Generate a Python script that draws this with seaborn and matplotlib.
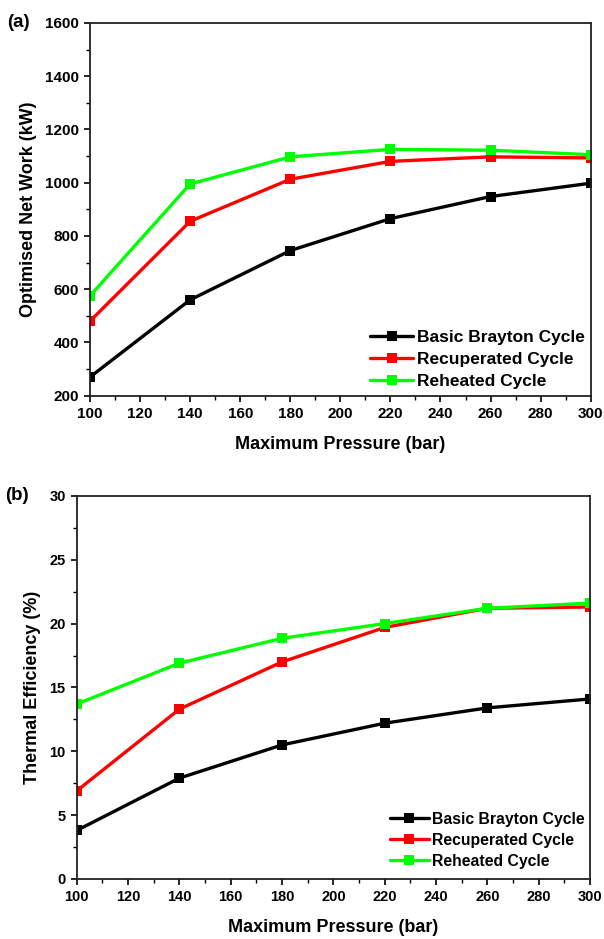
import matplotlib
matplotlib.use("Agg")
import matplotlib.pyplot as plt
import pandas as pd
import seaborn as sns
from matplotlib.ticker import MultipleLocator, AutoMinorLocator

pressure = [100, 140, 180, 220, 260, 300]
series_names = ["Basic Brayton Cycle", "Recuperated Cycle", "Reheated Cycle"]
series_colors = ["#000000", "#ff0000", "#00ff00"]

net_work_basic = [270, 560, 745, 865, 948, 998]
net_work_recup = [480, 855, 1013, 1080, 1097, 1093]
net_work_reheat = [575, 995, 1097, 1125, 1122, 1105]

eff_basic = [3.8, 7.9, 10.5, 12.2, 13.4, 14.1]
eff_recup = [6.9, 13.3, 17.0, 19.7, 21.2, 21.3]
eff_reheat = [13.7, 16.9, 18.85, 20.0, 21.2, 21.6]


def long_frame(values_list):
    rows = []
    for name, vals in zip(series_names, values_list):
        for p, v in zip(pressure, vals):
            rows.append({"pressure": p, "value": v, "cycle": name})
    return pd.DataFrame(rows)


def draw_panel(ax, df, ylabel, ylim, ymajor, tag, tag_x, tick_size, leg_size,
               leg_spacing, leg_anchor):
    for name, color in zip(series_names, series_colors):
        sub = df[df["cycle"] == name]
        sns.lineplot(data=sub, x="pressure", y="value", ax=ax, color=color,
                     marker="s", markersize=7, markeredgewidth=0, linewidth=2.4,
                     label=name)
    ax.set_xlim(100, 300)
    ax.set_ylim(*ylim)
    ax.xaxis.set_major_locator(MultipleLocator(20))
    ax.xaxis.set_minor_locator(AutoMinorLocator(2))
    ax.yaxis.set_major_locator(MultipleLocator(ymajor))
    ax.yaxis.set_minor_locator(AutoMinorLocator(2))
    ax.tick_params(which="major", direction="out", length=4.5, width=1.2,
                   labelsize=tick_size, colors="black", bottom=True, left=True,
                   top=False, right=False)
    ax.tick_params(which="minor", direction="out", length=3, width=1.0,
                   colors="black", bottom=True, left=True, top=False, right=False)
    for lab in ax.get_xticklabels() + ax.get_yticklabels():
        lab.set_fontweight("bold")
    for sp in ax.spines.values():
        sp.set_linewidth(1.3)
        sp.set_color("#222222")
    ax.grid(False)
    ax.set_xlabel("Maximum Pressure (bar)", fontsize=13, fontweight="bold",
                  labelpad=11, color="black")
    ax.set_ylabel(ylabel, fontsize=13, fontweight="bold", labelpad=6, color="black")
    leg = ax.legend(loc="lower right", bbox_to_anchor=leg_anchor, frameon=False,
                    fontsize=leg_size, handlelength=2.5, handletextpad=0.2,
                    labelspacing=leg_spacing, borderaxespad=0.0)
    for t in leg.get_texts():
        t.set_fontweight("bold")
        t.set_color("black")
    ax.text(tag_x, 1.0, tag, transform=ax.transAxes, fontsize=13.5,
            fontweight="bold", ha="left", va="center", color="black")


sns.set_theme(style="ticks")
plt.rcParams["font.family"] = ["Liberation Sans", "DejaVu Sans"]

fig = plt.figure(figsize=(6.04, 9.39), dpi=100)
ax_a = fig.add_axes([0.149, 0.5786, 0.829, 0.397])
ax_b = fig.add_axes([0.127, 0.0639, 0.850, 0.408])

draw_panel(ax_a, long_frame([net_work_basic, net_work_recup, net_work_reheat]),
           "Optimised Net Work (kW)", (200, 1600), 200, "(a)", -0.165,
           11, 12.5, 0.38, (1.002, 0.0))
draw_panel(ax_b, long_frame([eff_basic, eff_recup, eff_reheat]),
           "Thermal Efficiency (%)", (0, 30), 5, "(b)", -0.14,
           10.5, 11.3, 0.38, (1.002, 0.011))

fig.savefig("out.png", dpi=100)
